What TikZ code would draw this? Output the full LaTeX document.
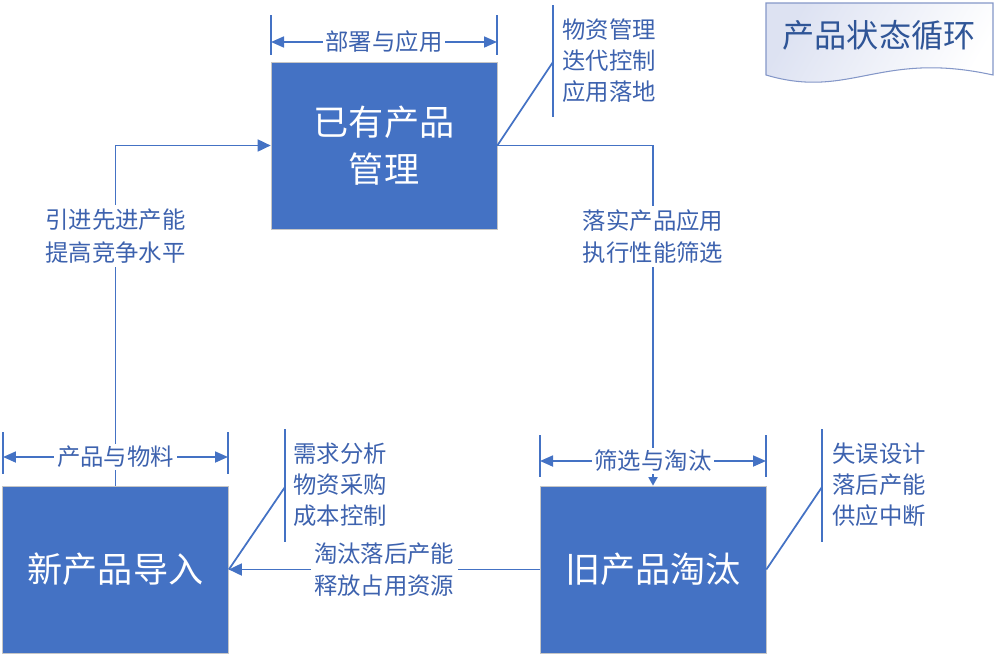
\documentclass[tikz,border=0pt]{standalone}
\usepackage{fontspec}
\setmainfont{Noto Sans CJK SC}
\usetikzlibrary{arrows.meta}
\definecolor{boxblue}{HTML}{4472C4}
\definecolor{textblue}{HTML}{3D62AE}
\definecolor{titleblue}{HTML}{2F5597}
\definecolor{docedge}{HTML}{8497C8}
\definecolor{docfill}{HTML}{DDE2F2}
\tikzset{
    prodbox/.style={fill=boxblue,draw=gray!45,line width=0.4pt,minimum width=4.52cm,minimum height=3.34cm,
        inner sep=0pt,text=white,align=center,font=\fontsize{20}{27}\selectfont},
    flowarrow/.style={boxblue,line width=1pt,-{Triangle[length=0.26cm,width=0.24cm]}},
    flowlabel/.style={fill=white,text=textblue,align=center,inner sep=2pt,font=\fontsize{13.3}{18.5}\selectfont},
    dimarrow/.style={boxblue,line width=1pt,{Triangle[length=0.26cm,width=0.22cm]}-{Triangle[length=0.26cm,width=0.22cm]}},
    dimtick/.style={boxblue,line width=1.1pt},
    dimlabel/.style={fill=white,text=textblue,inner sep=1.5pt,font=\fontsize{13.3}{16}\selectfont},
    calloutline/.style={boxblue,line width=1pt},
    callouttext/.style={anchor=west,text=textblue,align=left,inner sep=0pt,font=\fontsize{13.3}{17.6}\selectfont}
}
\begin{document}
\begin{tikzpicture}[x=0.02cm,y=-0.02cm]
    \useasboundingbox (0,0) rectangle (994,656);

    % Product boxes
    \node[prodbox] (exist) at (384,145.5) {已有产品\\管理};
    \node[prodbox] (new) at (115.5,569.5) {新产品导入};
    \node[prodbox] (retire) at (653,569.5) {旧产品淘汰};

    % Cycle arrows
    \draw[flowarrow] (new.north) |- node[flowlabel,pos=0.367] {引进先进产能\\提高竞争水平} (exist.west);
    \draw[boxblue,line width=1pt,-{Triangle[length=0.17cm,width=0.18cm]}] (exist.east) -| node[flowlabel,pos=0.634] {落实产品应用\\执行性能筛选} (retire.north);
    \draw[flowarrow] (retire.west) -- node[flowlabel] {淘汰落后产能\\释放占用资源} (new.east);

    % Dimension marks
    \draw[dimtick] (271,15) -- (271,55);
    \draw[dimtick] (497,15) -- (497,55);
    \coordinate (topl) at (271,42);
    \coordinate (topr) at (497,42);
    \draw[dimarrow] (topl) -- node[dimlabel] {部署与应用} (topr);

    \draw[dimtick] (3,432) -- (3,474);
    \draw[dimtick] (228,432) -- (228,474);
    \coordinate (leftl) at (3,457);
    \coordinate (leftr) at (228,457);
    \draw[dimarrow] (leftl) -- node[dimlabel] {产品与物料} (leftr);

    \draw[dimtick] (540,435) -- (540,477);
    \draw[dimtick] (766,435) -- (766,477);
    \coordinate (rightl) at (540,461);
    \coordinate (rightr) at (766,461);
    \draw[dimarrow] (rightl) -- node[dimlabel] {筛选与淘汰} (rightr);

    % Callouts
    \coordinate (c1) at (553,62);
    \draw[calloutline] (553,5) -- (553,117);
    \draw[calloutline] (exist.east) -- (c1);
    \node[callouttext] (c1text) at (562,61) {物资管理\\迭代控制\\应用落地};

    \coordinate (c2) at (285,487);
    \draw[calloutline] (285,429) -- (285,542);
    \draw[calloutline] (new.east) -- (c2);
    \node[callouttext] (c2text) at (293,485) {需求分析\\物资采购\\成本控制};

    \coordinate (c3) at (822,487);
    \draw[calloutline] (822,429) -- (822,542);
    \draw[calloutline] (retire.east) -- (c3);
    \node[callouttext] (c3text) at (832,485) {失误设计\\落后产能\\供应中断};

    % Title document
    \path[draw=docedge,line width=0.6pt,left color=docfill,right color=white,shading angle=60]
        (766,3) -- (993,3) -- (993,75) .. controls (880,50) and (850,100) .. (766,75) -- cycle;
    \node[text=titleblue,font=\fontsize{18.3}{20}\selectfont] (title) at (879,35) {产品状态循环};
\end{tikzpicture}
\end{document}
